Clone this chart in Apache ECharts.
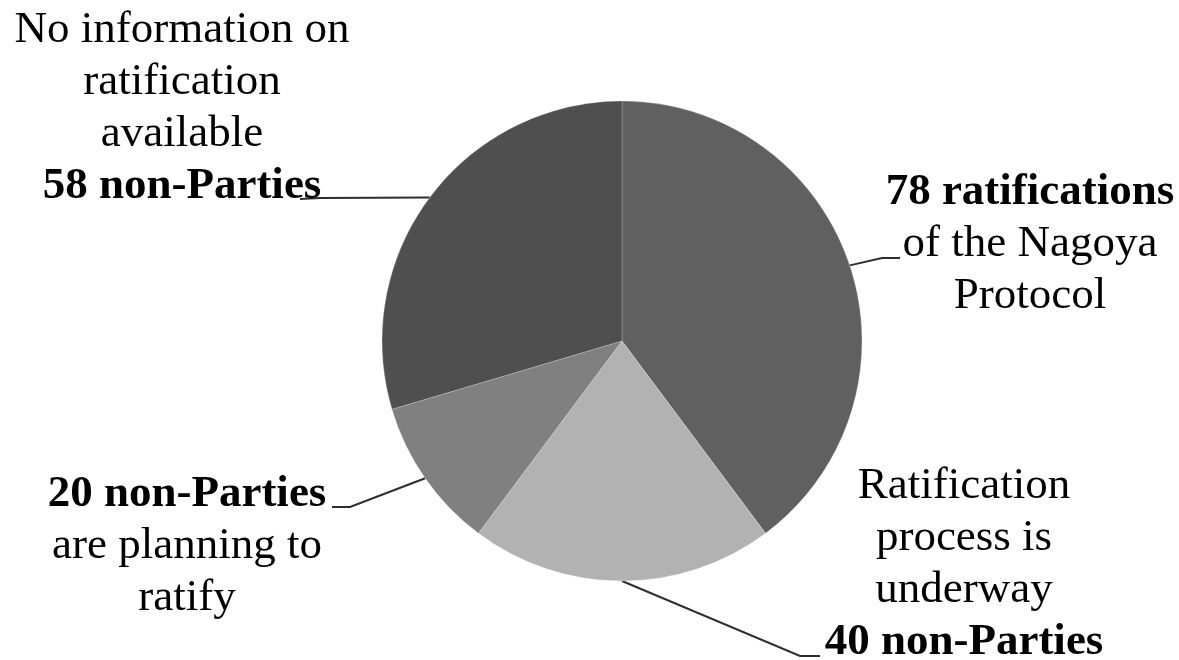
<!DOCTYPE html>
<html>
<head>
<meta charset="utf-8">
<script src="https://cdn.jsdelivr.net/npm/echarts@6/dist/echarts.min.js"></script>
<style>
html,body{margin:0;padding:0;background:#fff;}
#chart{width:1179px;height:660px;}
</style>
</head>
<body>
<div id="chart"></div>
<script>
// Data
const categories = ['Ratifications', 'Ratification process underway', 'Planning to ratify', 'No information'];
const values = [78, 40, 20, 58];
const sliceColors = ['#606060', '#b2b2b2', '#808080', '#4f4f4f'];
// Label lines: [plain lines before bold, bold line, plain lines after bold]
const labelBefore = [[], ['Ratification', 'process is', 'underway'], [], ['No information on', 'ratification', 'available']];
const labelBold = ['78 ratifications', '40 non-Parties', '20 non-Parties', '58 non-Parties'];
const labelAfter = [['of the Nagoya', 'Protocol'], [], ['are planning to', 'ratify'], []];

// Layout (label centres and leader-line bend/end points, px)
const labelCenters = [[1030, 244], [964, 564], [187, 546], [182, 108]];
const leaderEnds = [
  [[882, 258], [900, 258]],
  [[800, 656], [820, 656]],
  [[350, 507], [332, 507]],
  [[320, 198], [300, 199]]
];

const chart = echarts.init(document.getElementById('chart'));

const data = categories.map((c, i) => ({
  name: c,
  value: values[i],
  itemStyle: { color: sliceColors[i] }
}));

const FONT = 'Liberation Serif';

chart.setOption({
  animation: false,
  backgroundColor: '#ffffff',
  series: [{
    type: 'pie',
    center: [622, 341],
    radius: [0, 240],
    startAngle: 90,
    clockwise: true,
    avoidLabelOverlap: false,
    data: data,
    itemStyle: { borderColor: 'rgba(255,255,255,0.22)', borderWidth: 1 },
    label: {
      show: true,
      position: 'outside',
      fontFamily: FONT,
      fontSize: 45,
      lineHeight: 52,
      color: '#000',
      width: 420,
      overflow: 'none',
      align: 'center',
      formatter: function (p) {
        const i = p.dataIndex;
        const parts = [];
        labelBefore[i].forEach(t => parts.push('{n|' + t + '}'));
        parts.push('{b|' + labelBold[i] + '}');
        labelAfter[i].forEach(t => parts.push('{n|' + t + '}'));
        return parts.join('\n');
      },
      rich: {
        n: { fontFamily: FONT, fontSize: 45, lineHeight: 52, color: '#000', align: 'center' },
        b: { fontFamily: FONT, fontSize: 45, lineHeight: 52, color: '#000', fontWeight: 'bold', align: 'center' }
      }
    },
    labelLine: {
      show: true,
      length: 20,
      length2: 20,
      lineStyle: { color: '#2e2e2e', width: 2 }
    },
    labelLayout: function (params) {
      const i = params.dataIndex;
      const c = labelCenters[i];
      const res = { x: c[0], y: c[1], align: 'center', verticalAlign: 'middle' };
      if (params.labelLinePoints && params.labelLinePoints.length) {
        const start = params.labelLinePoints[0];
        res.labelLinePoints = [[start[0], start[1]], leaderEnds[i][0], leaderEnds[i][1]];
      }
      return res;
    }
  }]
});
</script>
</body>
</html>
